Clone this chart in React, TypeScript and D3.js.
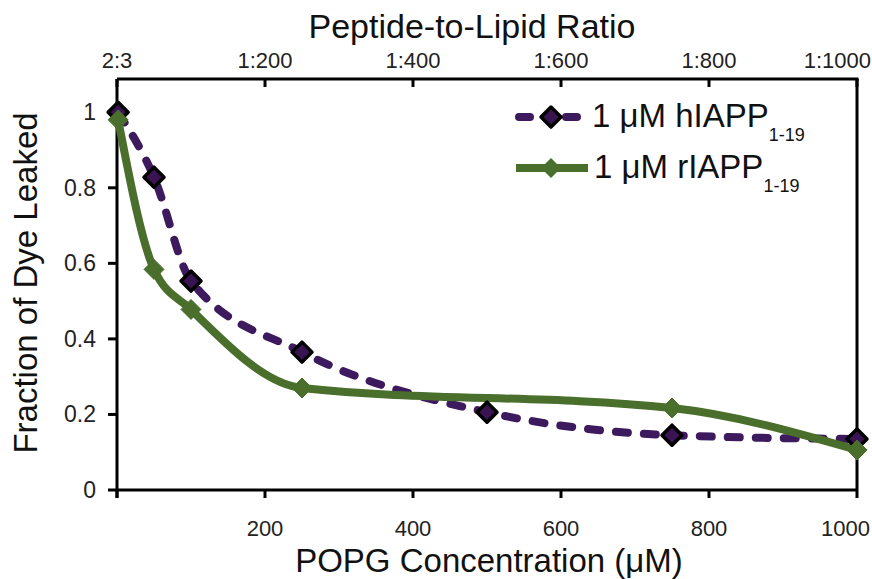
import React from "react";
import * as d3 from "d3";

const hConc = [1.5, 50, 100, 250, 500, 750, 1000];
const hLeak = [1.0, 0.828, 0.553, 0.365, 0.206, 0.145, 0.135];
const rConc = [1.5, 50, 100, 250, 750, 1000];
const rLeak = [0.98, 0.584, 0.478, 0.27, 0.217, 0.106];
const bottomTicks = [0, 200, 400, 600, 800, 1000];
const bottomLabels = ["", "200", "400", "600", "800", "1000"];
const topLabels = ["2:3", "1:200", "1:400", "1:600", "1:800", "1:1000"];
const yTicks = [0, 0.2, 0.4, 0.6, 0.8, 1];
const yLabels = ["0", "0.2", "0.4", "0.6", "0.8", "1"];

const PURPLE = "#3d1a5e";
const PURPLE_FILL = "#3a1452";
const GREEN = "#4a6e2c";
const FONT = "'Liberation Sans', Arial, sans-serif";

export default function App() {
  const W = 872, H = 579;
  const x = d3.scaleLinear().domain([0, 1000]).range([117, 857]);
  const y = d3.scaleLinear().domain([0, 1.088]).range([490, 79]);
  const line = d3
    .line<[number, number]>()
    .x((d) => x(d[0]))
    .y((d) => y(d[1]))
    .curve(d3.curveMonotoneX);
  const hPts: [number, number][] = hConc.map((c, i) => [c, hLeak[i]]);
  const rPts: [number, number][] = rConc.map((c, i) => [c, rLeak[i]]);
  const diamond = (cx: number, cy: number, r: number) =>
    `M${cx},${cy - r}L${cx + r},${cy}L${cx},${cy + r}L${cx - r},${cy}Z`;
  const last = bottomTicks.length - 1;

  return (
    <svg width={W} height={H} style={{ position: "absolute", left: 0, top: 0, background: "#fff" }}>
      <rect width={W} height={H} fill="#fff" />
      {/* Titles */}
      <text x={472} y={38} textAnchor="middle" fontFamily={FONT} fontSize={34} fill="#111">
        Peptide-to-Lipid Ratio
      </text>
      <text x={489} y={572} textAnchor="middle" fontFamily={FONT} fontSize={33} fill="#111">
        POPG Concentration (μM)
      </text>
      <text
        transform={`translate(37,${283}) rotate(-90)`}
        textAnchor="middle"
        fontFamily={FONT}
        fontSize={33}
        fill="#111"
      >
        Fraction of Dye Leaked
      </text>

      {/* Axes frame */}
      <line x1={x(0)} x2={x(1000)} y1={y(0)} y2={y(0)} stroke="#000" strokeWidth={3} />
      <line x1={x(0)} x2={x(1000) + 1.5} y1={79} y2={79} stroke="#000" strokeWidth={3} />
      <line x1={x(0)} x2={x(0)} y1={79} y2={y(0) + 8} stroke="#000" strokeWidth={3} />
      <line x1={x(1000)} x2={x(1000)} y1={79} y2={y(0)} stroke="#000" strokeWidth={3} />

      {/* Bottom ticks */}
      {bottomTicks.map((t, i) => (
        <g key={"b" + i}>
          <line x1={x(t)} x2={x(t)} y1={y(0)} y2={y(0) + 8} stroke="#000" strokeWidth={3} />
          <text
            x={i === last ? 870 : x(t)}
            y={536}
            textAnchor={i === last ? "end" : "middle"}
            fontFamily={FONT}
            fontSize={22}
            fill="#222"
          >
            {bottomLabels[i]}
          </text>
        </g>
      ))}
      {/* Top ticks */}
      {bottomTicks.map((t, i) => (
        <g key={"t" + i}>
          <line x1={x(t)} x2={x(t)} y1={79} y2={87} stroke="#000" strokeWidth={3} />
          <text
            x={i === last ? 871 : x(t)}
            y={68}
            textAnchor={i === last ? "end" : "middle"}
            fontFamily={FONT}
            fontSize={22}
            fill="#222"
          >
            {topLabels[i]}
          </text>
        </g>
      ))}
      {/* Left ticks */}
      {yTicks.map((t, i) => (
        <g key={"y" + i}>
          <line x1={x(0) - 9} x2={x(0)} y1={y(t)} y2={y(t)} stroke="#000" strokeWidth={3} />
          <text x={96} y={y(t) + 8} textAnchor="end" fontFamily={FONT} fontSize={23} fill="#222">
            {yLabels[i]}
          </text>
        </g>
      ))}

      {/* Series */}
      <path
        d={line(hPts) || ""}
        fill="none"
        stroke={PURPLE}
        strokeWidth={8}
        strokeDasharray="12 16"
        strokeLinecap="round"
      />
      <path d={line(rPts) || ""} fill="none" stroke={GREEN} strokeWidth={8} strokeLinejoin="round" />
      {hPts.map((p, i) => (
        <path
          key={"hm" + i}
          d={diamond(x(p[0]), y(p[1]), 10)}
          fill={PURPLE_FILL}
          stroke="#000"
          strokeWidth={3.5}
          strokeLinejoin="round"
        />
      ))}
      {rPts.map((p, i) => (
        <path key={"rm" + i} d={diamond(x(p[0]), y(p[1]), 10)} fill={GREEN} stroke={GREEN} strokeWidth={1} />
      ))}

      {/* Legend */}
      <line x1={519} x2={580} y1={117} y2={117} stroke={PURPLE} strokeWidth={8} strokeDasharray="11 36" strokeLinecap="round" />
      <path d={diamond(551, 117, 10)} fill={PURPLE_FILL} stroke="#000" strokeWidth={3.5} strokeLinejoin="round" />
      <text x={592} y={127} fontFamily={FONT} fontSize={33} fill="#111">
        1 μM hIAPP
        <tspan dy={14} fontSize={18}>1-19</tspan>
      </text>
      <line x1={516} x2={588} y1={168} y2={168} stroke={GREEN} strokeWidth={8} />
      <path d={diamond(551, 168, 10)} fill={GREEN} />
      <text x={594} y={178} fontFamily={FONT} fontSize={33} fill="#111">
        1 μM rIAPP
        <tspan dy={14} fontSize={18}>1-19</tspan>
      </text>
    </svg>
  );
}
